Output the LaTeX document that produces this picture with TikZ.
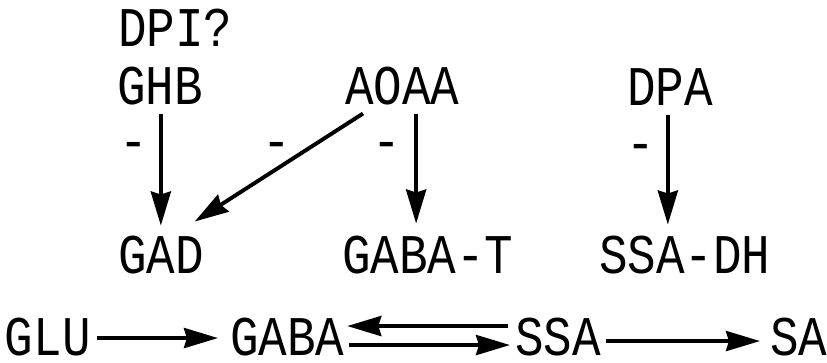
\documentclass[tikz,border=0pt]{standalone}
\usepackage{fontspec}
\setmonofont[FakeStretch=0.85]{Liberation Mono}
\usetikzlibrary{arrows.meta}
\begin{document}
\begin{tikzpicture}[x=1pt,y=-1pt,
  lbl/.style={inner sep=0pt,outer sep=0pt,anchor=base west,
    font=\fontsize{56}{60}\selectfont\ttfamily},
  minus/.style={lbl,anchor=base},
  arr/.style={line width=3.9pt,-{Stealth[length=34pt,width=20pt,inset=3pt]}}]
\useasboundingbox (0,0) rectangle (827,363);
% inhibitors
\node[lbl] (dpi)  at (118,47)  {DPI?};
\node[lbl] (ghb)  at (117,105) {GHB};
\node[lbl] (aoaa) at (345,105) {AOAA};
\node[lbl] (dpa)  at (627,106) {DPA};
% enzymes
\node[lbl] (gad)   at (118,273) {GAD};
\node[lbl] (gabat) at (342,273) {GABA-T};
\node[lbl] (ssadh) at (599,273) {SSA-DH};
% metabolites
\node[lbl] (glu)  at (5,355)   {GLU};
\node[lbl] (gaba) at (230,355) {GABA};
\node[lbl] (ssa)  at (515,355) {SSA};
\node[lbl] (sa)   at (770,355) {SA};
% inhibition signs
\node[minus] (m1) at (134,160) {-};
\node[minus] (m2) at (277,160) {-};
\node[minus] (m3) at (387,160) {-};
\node[minus] (m4) at (641,162) {-};
% inhibitor arrows
\draw[arr,shorten <=8pt,shorten >=10pt] ([xshift=1pt]ghb.south) -- ([xshift=1pt]ghb.south |- gad.north);
\draw[arr,shorten <=8pt,shorten >=12pt] ([xshift=14pt]aoaa.south) -- ([xshift=14pt]aoaa.south |- gabat.north);
\draw[arr,shorten <=9pt,shorten >=11pt] ([xshift=-2pt]dpa.south) -- ([xshift=-2pt]dpa.south |- ssadh.north);
\draw[arr] ([xshift=18pt,yshift=-8pt]aoaa.south west) -- ([xshift=-9pt,yshift=14pt]gad.north east);
% pathway
\draw[arr,shorten <=6pt,shorten >=12pt] ([yshift=-1.5pt]glu.east) -- ([yshift=-1.5pt]gaba.west);
\draw[arr,shorten <=7pt,shorten >=3pt] ([yshift=10.5pt]ssa.west) -- ([yshift=10.5pt]gaba.east);
\draw[arr,shorten <=5pt,shorten >=5pt] ([yshift=-8.5pt]gaba.east) -- ([yshift=-8.5pt]ssa.west);
\draw[arr,shorten <=5pt,shorten >=10pt] ([yshift=-4.5pt]ssa.east) -- ([yshift=-4.5pt]sa.west);
\end{tikzpicture}
\end{document}
